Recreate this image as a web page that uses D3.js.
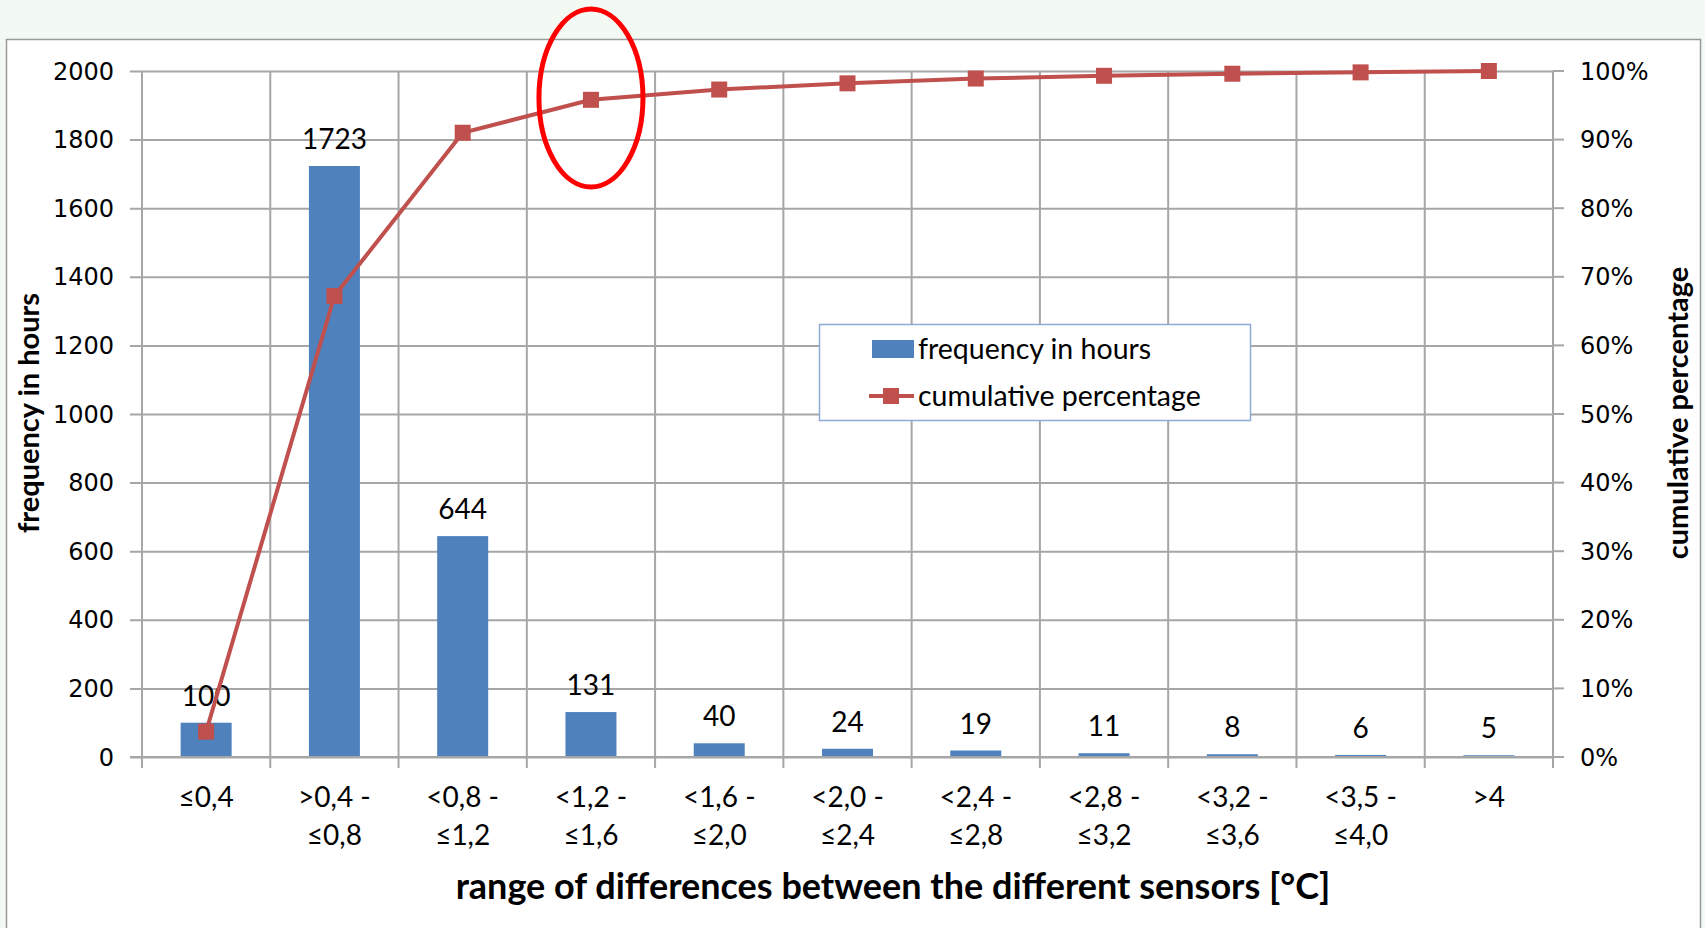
<!DOCTYPE html>
<html>
<head>
<meta charset="utf-8">
<script src="https://cdn.jsdelivr.net/npm/d3@7"></script>
<style>
  html, body { margin: 0; padding: 0; background: #f3f9f3; }
  svg { display: block; }
</style>
</head>
<body>
<div id="chart"></div>
<script>
// categories (two-line tick labels)
const categories = [
  ["≤0,4"], [">0,4 -", "≤0,8"], ["<0,8 -", "≤1,2"], ["<1,2 -", "≤1,6"],
  ["<1,6 -", "≤2,0"], ["<2,0 -", "≤2,4"], ["<2,4 -", "≤2,8"], ["<2,8 -", "≤3,2"],
  ["<3,2 -", "≤3,6"], ["<3,5 -", "≤4,0"], [">4"]
];
const hours = [100, 1723, 644, 131, 40, 24, 19, 11, 8, 6, 5];
const cumulative = [3.7, 67.2, 91.0, 95.8, 97.3, 98.2, 98.9, 99.3, 99.6, 99.8, 100];
const leftTicks = [0, 200, 400, 600, 800, 1000, 1200, 1400, 1600, 1800, 2000];
const rightTicks = [0, 10, 20, 30, 40, 50, 60, 70, 80, 90, 100];

const width = 1705;
const height = 928;
const plot = { left: 142, right: 1553, top: 71, bottom: 757 };

const calibri = "Lato, 'Open Sans', sans-serif";
const verdana = "'DejaVu Sans', Verdana, sans-serif";
const barColor = "#4f81bd";
const lineColor = "#c0504d";
const gridColor = "#a6a6a6";

const svg = d3.select("#chart")
  .append("svg")
  .attr("width", width)
  .attr("height", height);

// chart area
svg.append("rect")
  .attr("x", 6.5).attr("y", 39.5)
  .attr("width", 1694).attr("height", 900)
  .attr("fill", "#fff")
  .attr("stroke", "#9a9a9a")
  .attr("stroke-width", 1.5);

const x = d3.scaleBand()
  .domain(d3.range(categories.length))
  .range([plot.left, plot.right])
  .paddingInner(0).paddingOuter(0);

const yLeft = d3.scaleLinear().domain([0, 2000]).range([plot.bottom, plot.top]);
const yRight = d3.scaleLinear().domain([0, 100]).range([plot.bottom, plot.top]);

// horizontal gridlines + left ticks
svg.append("g")
  .attr("transform", `translate(${plot.left},0)`)
  .call(d3.axisLeft(yLeft).tickValues(leftTicks).tickSize(-(plot.right - plot.left)).tickSizeOuter(0).tickFormat(""))
  .call(g => g.select(".domain").remove())
  .call(g => g.selectAll("line").attr("stroke", gridColor).attr("stroke-width", 2)
    .attr("x1", -12));

// vertical gridlines at category boundaries
const bounds = d3.range(categories.length + 1).map(i =>
  i < categories.length ? x(i) : x(categories.length - 1) + x.bandwidth());
svg.append("g")
  .selectAll("line")
  .data(bounds)
  .join("line")
  .attr("x1", d => d).attr("x2", d => d)
  .attr("y1", plot.top).attr("y2", plot.bottom + 11)
  .attr("stroke", gridColor)
  .attr("stroke-width", 2);

// right axis ticks
svg.append("g")
  .selectAll("line")
  .data(rightTicks)
  .join("line")
  .attr("x1", plot.right).attr("x2", plot.right + 11)
  .attr("y1", d => yRight(d)).attr("y2", d => yRight(d))
  .attr("stroke", gridColor)
  .attr("stroke-width", 2);

// left tick labels
svg.append("g")
  .selectAll("text")
  .data(leftTicks)
  .join("text")
  .attr("x", 114)
  .attr("y", d => yLeft(d))
  .attr("dy", "0.36em")
  .attr("text-anchor", "end")
  .style("font-family", verdana)
  .style("font-size", "24px")
  .text(d => d);

// right tick labels
svg.append("g")
  .selectAll("text")
  .data(rightTicks)
  .join("text")
  .attr("x", 1580)
  .attr("y", d => yRight(d))
  .attr("dy", "0.36em")
  .style("font-family", verdana)
  .style("font-size", "24px")
  .text(d => d + "%");

// bars
const barW = 51;
svg.append("g")
  .selectAll("rect")
  .data(hours)
  .join("rect")
  .attr("x", (d, i) => x(i) + x.bandwidth() / 2 - barW / 2)
  .attr("y", d => yLeft(d))
  .attr("width", barW)
  .attr("height", d => yLeft(0) - yLeft(d))
  .attr("fill", barColor);

// bar value labels
svg.append("g")
  .selectAll("text")
  .data(hours)
  .join("text")
  .attr("x", (d, i) => x(i) + x.bandwidth() / 2)
  .attr("y", d => yLeft(d) - 27)
  .attr("dy", "0.36em")
  .attr("text-anchor", "middle")
  .style("font-family", calibri)
  .style("font-size", "28px")
  .text(d => d);

// x axis (0 line)
svg.append("line")
  .attr("x1", plot.left - 12).attr("x2", plot.right + 11)
  .attr("y1", plot.bottom).attr("y2", plot.bottom)
  .attr("stroke", gridColor).attr("stroke-width", 2);

// category labels
const catLabels = svg.append("g")
  .selectAll("text")
  .data(categories)
  .join("text")
  .attr("text-anchor", "middle")
  .style("font-family", calibri)
  .style("font-size", "28px");
catLabels.selectAll("tspan")
  .data((d, i) => d.map(t => ({ t, i })))
  .join("tspan")
  .attr("x", d => x(d.i) + x.bandwidth() / 2)
  .attr("y", (d, j) => 797 + j * 38)
  .attr("dy", "0.36em")
  .text(d => d.t);

// cumulative line
const line = d3.line()
  .x((d, i) => x(i) + x.bandwidth() / 2)
  .y(d => yRight(d));

svg.append("path")
  .datum(cumulative)
  .attr("d", line)
  .attr("fill", "none")
  .attr("stroke", lineColor)
  .attr("stroke-width", 4);

svg.append("g")
  .selectAll("rect")
  .data(cumulative)
  .join("rect")
  .attr("x", (d, i) => x(i) + x.bandwidth() / 2 - 8)
  .attr("y", d => yRight(d) - 8)
  .attr("width", 16).attr("height", 16)
  .attr("fill", lineColor);

// axis titles
svg.append("text")
  .attr("transform", "translate(29,413) rotate(-90)")
  .attr("text-anchor", "middle")
  .attr("dy", "0.36em")
  .style("font-family", calibri)
  .style("font-weight", "bold")
  .style("font-size", "29px")
  .text("frequency in hours");

svg.append("text")
  .attr("transform", "translate(1678,413) rotate(-90)")
  .attr("text-anchor", "middle")
  .attr("dy", "0.36em")
  .style("font-family", calibri)
  .style("font-weight", "bold")
  .style("font-size", "29px")
  .text("cumulative percentage");

svg.append("text")
  .attr("x", 893).attr("y", 886)
  .attr("text-anchor", "middle")
  .attr("dy", "0.36em")
  .style("font-family", calibri)
  .style("font-weight", "bold")
  .style("font-size", "36px")
  .text("range of differences between the different sensors [°C]");

// legend
const legend = svg.append("g");
legend.append("rect")
  .attr("x", 819.5).attr("y", 324.5)
  .attr("width", 431).attr("height", 96)
  .attr("fill", "#fff")
  .attr("stroke", "#8eaad6")
  .attr("stroke-width", 1.5);
legend.append("rect")
  .attr("x", 872).attr("y", 340)
  .attr("width", 42).attr("height", 18)
  .attr("fill", barColor);
legend.append("line")
  .attr("x1", 869).attr("x2", 914)
  .attr("y1", 396).attr("y2", 396)
  .attr("stroke", lineColor).attr("stroke-width", 4);
legend.append("rect")
  .attr("x", 883).attr("y", 388)
  .attr("width", 16).attr("height", 16)
  .attr("fill", lineColor);
legend.selectAll("text.lg")
  .data(["frequency in hours", "cumulative percentage"])
  .join("text")
  .attr("x", 918)
  .attr("y", (d, i) => 349 + i * 47)
  .attr("dy", "0.36em")
  .style("font-family", calibri)
  .style("font-size", "28.5px")
  .text(d => d);

// highlight ellipse
svg.append("ellipse")
  .attr("cx", x(3) + x.bandwidth() / 2)
  .attr("cy", 98)
  .attr("rx", 52).attr("ry", 89)
  .attr("fill", "none")
  .attr("stroke", "#ff0000")
  .attr("stroke-width", 5);
</script>
</body>
</html>
